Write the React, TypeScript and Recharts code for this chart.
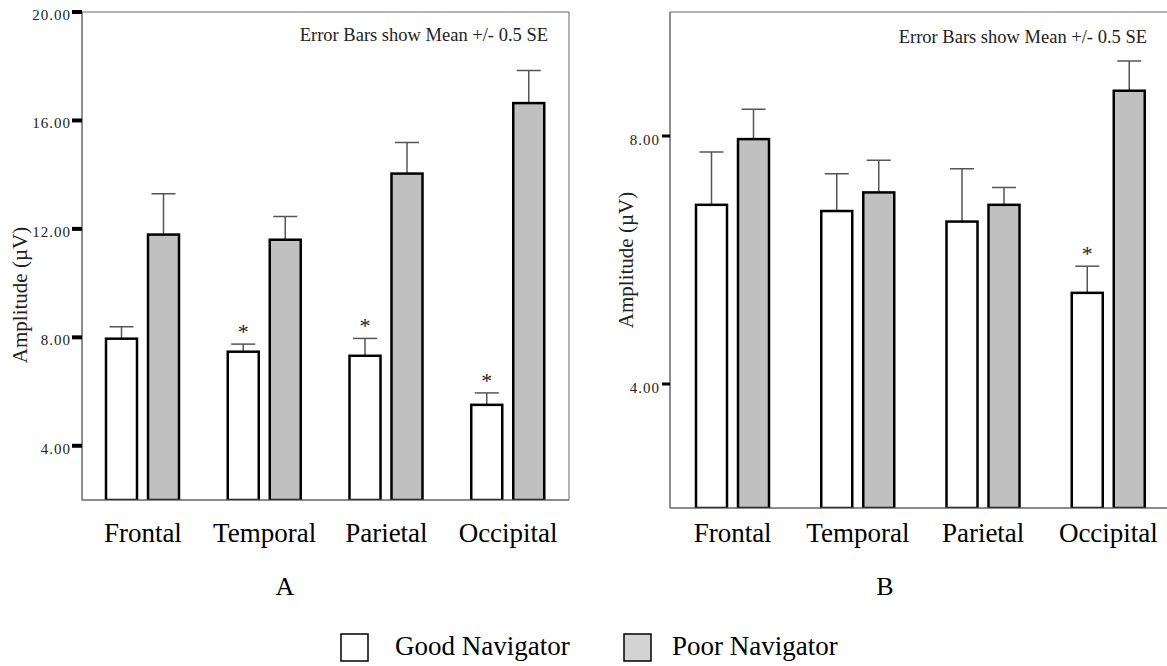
import React from 'react';
import { BarChart, Bar, XAxis, YAxis, ReferenceArea } from 'recharts';

const CATEGORIES = ['Frontal', 'Temporal', 'Parietal', 'Occipital'];

// panel A
const A_GOOD = [7.95, 7.47, 7.32, 5.51];
const A_GOOD_ERR = [0.44, 0.28, 0.64, 0.44];
const A_POOR = [11.79, 11.6, 14.04, 16.64];
const A_POOR_ERR = [1.51, 0.86, 1.15, 1.2];
const A_SIG = [false, true, true, true];
const A_TICKS = [4, 8, 12, 16, 20];

// panel B
const B_GOOD = [6.89, 6.79, 6.62, 5.47];
const B_GOOD_ERR = [0.85, 0.6, 0.85, 0.43];
const B_POOR = [7.95, 7.09, 6.89, 8.73];
const B_POOR_ERR = [0.48, 0.52, 0.28, 0.48];
const B_SIG = [false, false, false, true];
const B_TICKS = [4, 8];

const SERIF = '"Liberation Serif", "DejaVu Serif", serif';
const TEXT = '#222';

const buildRows = (good: number[], goodErr: number[], poor: number[], poorErr: number[], sig: boolean[]) =>
  CATEGORIES.map((name, i) => ({
    name,
    good: good[i],
    goodErr: goodErr[i],
    poor: poor[i],
    poorErr: poorErr[i],
    sig: sig[i],
  }));

const dataA = buildRows(A_GOOD, A_GOOD_ERR, A_POOR, A_POOR_ERR, A_SIG);
const dataB = buildRows(B_GOOD, B_GOOD_ERR, B_POOR, B_POOR_ERR, B_SIG);

// bar with an upper whisker (+0.5 SE) and optional asterisk
const makeShape = (fill: string, valueKey: string, errKey: string, base: number, withStar: boolean) => (props: any) => {
  const { x, y, width, height, payload } = props;
  const k = height / (payload[valueKey] - base);
  const top = y - payload[errKey] * k;
  const cx = x + width / 2;
  return (
    <g>
      <line x1={cx} y1={y} x2={cx} y2={top} stroke="#555" strokeWidth={1.5} />
      <line x1={cx - 12} y1={top} x2={cx + 12} y2={top} stroke="#555" strokeWidth={1.5} />
      <rect x={x} y={y} width={width} height={height} fill={fill} stroke="#000" strokeWidth={2.5} />
      {withStar && payload.sig && (
        <text x={cx} y={top - 5} textAnchor="middle" fontSize={22} fontFamily={SERIF} fill={TEXT}>
          *
        </text>
      )}
    </g>
  );
};

const yTick = (dy: number) => (props: any) => {
  const { x, y, payload } = props;
  return (
    <text x={x} y={y + dy} textAnchor="end" fontSize={15} letterSpacing={1} fontFamily={SERIF} fill={TEXT}>
      {Number(payload.value).toFixed(2)}
    </text>
  );
};

const xTick = (dy: number) => (props: any) => {
  const { x, y, payload } = props;
  return (
    <text x={x} y={y + dy} textAnchor="middle" fontSize={27} fontFamily={SERIF} fill="#000">
      {payload.value}
    </text>
  );
};

interface PanelProps {
  data: any[];
  domain: [number, number];
  ticks: number[];
  width: number;
  height: number;
  margin: { top: number; right: number; bottom: number; left: number };
  yWidth: number;
  tickSize: number;
  tickWidth: number;
  tickMargin: number;
  labelDy: number;
  xDy: number;
}

const Panel: React.FC<PanelProps> = ({ data, domain, ticks, width, height, margin, yWidth, tickSize, tickWidth, tickMargin, labelDy, xDy }) => (
  <BarChart width={width} height={height} data={data} margin={margin} barSize={31} barGap={11}>
    <ReferenceArea y1={domain[0]} y2={domain[1]} fill="none" stroke="#666" strokeWidth={1} ifOverflow="visible" />
    <XAxis
      dataKey="name"
      height={40}
      tickLine={false}
      tickSize={0}
      tickMargin={0}
      axisLine={{ stroke: '#666' }}
      tick={xTick(xDy)}
      interval={0}
    />
    <YAxis
      type="number"
      domain={domain}
      ticks={ticks}
      width={yWidth}
      tickSize={tickSize}
      tickMargin={tickMargin}
      tickLine={{ stroke: '#000', strokeWidth: tickWidth }}
      axisLine={{ stroke: '#666' }}
      tick={yTick(labelDy)}
      allowDataOverflow
    />
    <Bar dataKey="good" isAnimationActive={false} shape={makeShape('#fff', 'good', 'goodErr', domain[0], true)} />
    <Bar dataKey="poor" isAnimationActive={false} shape={makeShape('#c0c0c0', 'poor', 'poorErr', domain[0], false)} />
  </BarChart>
);

export default function App() {
  return (
    <div
      style={{
        position: 'absolute',
        left: 0,
        top: 0,
        width: 1167,
        height: 666,
        overflow: 'hidden',
        background: '#fff',
        fontFamily: SERIF,
      }}
    >
      <div style={{ position: 'absolute', left: 0, top: 0 }}>
        <Panel
          data={dataA}
          domain={[2, 20]}
          ticks={A_TICKS}
          width={600}
          height={570}
          margin={{ top: 12, right: 31, bottom: 30, left: 0 }}
          yWidth={82}
          tickSize={10}
          tickWidth={4}
          tickMargin={1}
          labelDy={8}
          xDy={42}
        />
      </div>
      <div style={{ position: 'absolute', left: 590, top: 0 }}>
        <Panel
          data={dataB}
          domain={[2, 10]}
          ticks={B_TICKS}
          width={590}
          height={570}
          margin={{ top: 12, right: 9, bottom: 22, left: 0 }}
          yWidth={80}
          tickSize={8}
          tickWidth={3}
          tickMargin={2}
          labelDy={9}
          xDy={34}
        />
      </div>
      <svg width={1167} height={666} style={{ position: 'absolute', left: 0, top: 0, pointerEvents: 'none' }}>
        <g fontFamily={SERIF}>
          <text x={548} y={41} textAnchor="end" fontSize={18.5} fill={TEXT}>
            Error Bars show Mean +/- 0.5 SE
          </text>
          <text x={1147} y={43} textAnchor="end" fontSize={18.5} fill={TEXT}>
            Error Bars show Mean +/- 0.5 SE
          </text>
          <text x={27} y={295} transform="rotate(-90, 27, 295)" textAnchor="middle" fontSize={21} fill={TEXT}>
            Amplitude (µV)
          </text>
          <text x={633} y={260} transform="rotate(-90, 633, 260)" textAnchor="middle" fontSize={21} fill={TEXT}>
            Amplitude (µV)
          </text>
          <text x={285} y={595} textAnchor="middle" fontSize={26} fill="#000">
            A
          </text>
          <text x={885} y={595} textAnchor="middle" fontSize={26} fill="#000">
            B
          </text>
          <rect x={341} y={634} width={27} height={27} fill="#fff" stroke="#000" strokeWidth={1.5} />
          <text x={395} y={655} fontSize={27} fill="#000">
            Good Navigator
          </text>
          <rect x={624} y={634} width={27} height={27} fill="#d3d3d3" stroke="#000" strokeWidth={1.5} />
          <text x={672} y={655} fontSize={27} fill="#000">
            Poor Navigator
          </text>
        </g>
      </svg>
    </div>
  );
}
